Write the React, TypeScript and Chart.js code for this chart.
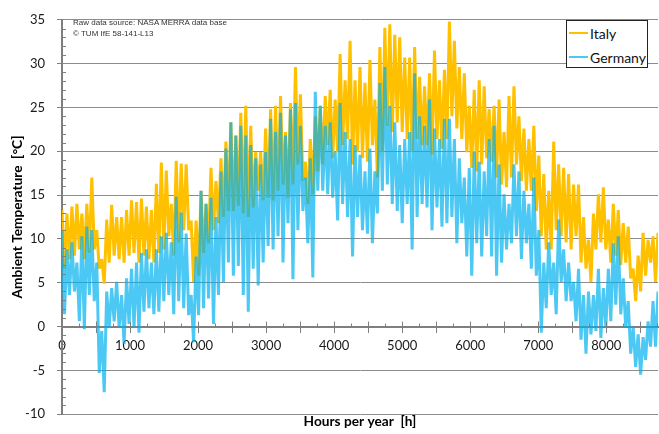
import React, { useEffect, useRef } from 'react';
import { Chart, registerables } from 'chart.js';

Chart.register(...registerables);

// Hours between successive daily-peak readings; lows sit half a step later.
const HOURS_PER_STEP = 73;
const HOURS_PER_YEAR = 8760;

const ITALY_HIGH = [
  13.3, 12.9, 13.7, 14.0, 12.9, 14.0, 17.0, 11.0, 7.7, 12.2,
  13.9, 12.5, 12.5, 13.3, 14.4, 14.2, 14.6, 13.7, 13.3, 16.3,
  18.7, 17.8, 14.0, 18.9, 18.6, 18.5, 12.1, 12.1, 15.5, 14.0,
  18.1, 16.6, 19.2, 21.1, 23.3, 21.8, 24.4, 25.2, 22.9, 19.9,
  19.9, 22.6, 24.8, 25.2, 26.3, 22.2, 25.5, 29.6, 26.5, 18.8,
  21.4, 24.0, 25.2, 26.3, 27.0, 25.9, 31.1, 28.1, 32.6, 28.1,
  29.6, 27.8, 30.4, 25.9, 31.9, 34.1, 34.5, 33.3, 33.0, 30.7,
  30.7, 31.9, 28.5, 27.4, 28.9, 31.5, 28.1, 29.3, 34.8, 32.6,
  29.6, 28.9, 25.2, 27.0, 28.1, 27.4, 24.8, 25.2, 25.9, 22.2,
  26.3, 27.4, 24.0, 22.6, 21.4, 22.9, 19.5, 17.4, 15.5, 21.1,
  18.5, 18.1, 17.4, 16.2, 16.2, 12.5, 9.9, 12.9, 15.1, 15.9,
  12.2, 14.0, 13.3, 11.8, 11.4, 6.6, 8.1, 10.7, 9.9, 10.3,
  10.7,
];

const ITALY_LOW = [
  6.6, 7.7, 8.1, 8.8, 7.7, 8.4, 8.8, 6.6, 4.9, 7.3,
  8.1, 7.7, 7.3, 8.1, 8.4, 7.3, 8.1, 7.7, 7.3, 8.4,
  8.8, 10.3, 8.1, 9.6, 11.0, 11.0, 5.1, 5.8, 8.4, 9.5,
  11.0, 11.8, 12.5, 13.2, 13.2, 13.8, 12.9, 12.5, 13.6, 15.5,
  14.4, 14.7, 14.4, 15.5, 16.2, 14.7, 16.2, 18.5, 16.6, 14.0,
  15.1, 17.7, 18.5, 20.7, 19.2, 19.9, 20.7, 21.4, 18.5, 19.9,
  19.2, 18.8, 20.7, 17.0, 19.9, 22.9, 22.2, 23.3, 22.2, 21.4,
  19.9, 21.4, 20.7, 20.7, 19.6, 21.4, 20.3, 21.4, 24.0, 22.6,
  21.4, 19.9, 18.1, 17.7, 18.5, 19.2, 18.8, 17.0, 16.2, 15.9,
  17.0, 18.5, 16.6, 15.5, 15.5, 13.2, 10.3, 8.8, 8.8, 11.0,
  10.3, 9.6, 8.8, 10.3, 7.3, 6.6, 5.1, 8.8, 9.6, 8.8,
  7.3, 8.1, 7.0, 7.3, 5.5, 2.9, 4.0, 5.8, 7.3, 5.1,
];

const GERMANY_HIGH = [
  11.0, 8.8, 9.6, 7.3, 10.3, 11.4, 11.0, 7.3, -0.5, 4.0,
  4.4, 5.1, 3.6, 5.5, 6.6, 7.3, 8.4, 8.8, 7.3, 8.8,
  10.3, 10.7, 9.6, 14.8, 13.0, 10.6, 3.6, 8.0, 15.5, 14.0,
  14.7, 12.5, 17.7, 20.3, 23.3, 21.8, 22.9, 21.8, 20.7, 19.2,
  18.5, 19.9, 23.7, 22.2, 24.4, 21.8, 24.8, 25.5, 22.9, 17.0,
  19.2, 26.8, 25.2, 22.9, 23.3, 19.9, 25.5, 22.2, 21.4, 20.7,
  19.6, 17.7, 20.3, 17.7, 27.8, 29.6, 25.2, 23.3, 20.7, 21.4,
  22.2, 28.9, 24.0, 22.9, 25.9, 22.6, 21.4, 23.7, 23.7, 21.4,
  19.2, 17.0, 18.1, 19.9, 18.8, 17.7, 21.4, 22.9, 18.5, 15.1,
  14.0, 18.5, 17.7, 15.5, 14.0, 17.0, 11.0, 7.3, 9.6, 7.3,
  12.2, 8.8, 7.3, 5.1, 6.6, 3.6, 4.0, 3.6, 6.6, 4.4,
  6.6, 9.5, 10.3, 5.5, 2.9, -0.1, -0.9, -1.2, 0.6, 2.9,
  4.0,
];

const GERMANY_LOW = [
  1.4, 3.6, 4.0, 0.6, -0.3, 3.6, 2.9, -5.3, -7.5, -0.1,
  0.6, -0.1, -2.0, 0.3, -0.1, -0.7, 1.7, 2.1, 1.4, 1.7,
  2.9, 3.6, 1.4, 2.9, 2.1, 1.3, -1.8, 1.3, 2.1, 3.2,
  0.3, 3.6, 5.1, 7.3, 5.8, 6.9, 3.6, 1.7, 6.6, 4.7,
  7.3, 9.2, 8.8, 10.3, 7.3, 11.8, 5.4, 11.0, 13.2, 9.5,
  5.6, 15.5, 15.5, 15.1, 14.7, 12.1, 14.0, 12.5, 8.0, 12.5,
  11.0, 10.6, 9.5, 12.9, 15.5, 16.2, 14.0, 13.2, 11.8, 14.0,
  8.8, 12.5, 14.0, 13.6, 11.0, 13.6, 11.4, 11.8, 12.5, 9.5,
  11.8, 8.0, 5.8, 9.5, 8.0, 10.3, 8.0, 5.8, 7.3, 8.8,
  9.5, 10.3, 7.7, 9.5, 6.6, 5.8, -0.7, 2.1, 3.6, 1.4,
  5.1, 2.9, 2.9, 0.6, -1.5, -3.1, -0.9, -0.5, -1.3, -0.1,
  0.6, 2.5, 1.4, -0.1, -3.1, -4.6, -5.5, -3.8, -2.3, -2.3,
];

const SERIES_NAMES = ['Italy', 'Germany'];
const ITALY_COLOR = '#FFC000';
const GERMANY_COLOR = 'rgba(0,176,240,0.7)';
const GERMANY_LEGEND_COLOR = 'rgb(77,200,245)';
const Y_MIN = -10;
const Y_MAX = 35;
const Y_STEP = 5;
const X_TICK_VALUES = [0, 500, 1000, 1500, 2000, 2500, 3000, 3500, 4000, 4500, 5000, 5500, 6000, 6500, 7000, 7500, 8000, 8500];
const X_LABEL_STEP = 1000;
const X_TICK_STEP = 500;
const X_MINOR_STEP = 250;
const Y_TITLE = 'Ambient Temperature  [°C]';
const X_TITLE = 'Hours per year  [h]';
const NOTE_LINES = ['Raw data source: NASA MERRA data base', '© TUM IfE 58-141-L13'];

function buildSeries(highs: number[], lows: number[]) {
  const pts: { x: number; y: number }[] = [];
  for (let i = 0; i < highs.length; i++) {
    pts.push({ x: i * HOURS_PER_STEP, y: highs[i] });
    if (i < lows.length) pts.push({ x: i * HOURS_PER_STEP + HOURS_PER_STEP / 2, y: lows[i] });
  }
  return pts;
}

const AXIS_GRAY = '#7f7f7f';
const TITLE_FONT = { size: 13.7, weight: 'bold' as const };

const minorTicksPlugin = {
  id: 'minorTicks',
  afterDraw(chart: any) {
    const { ctx, scales, chartArea } = chart;
    const xs = scales.x;
    const ys = scales.y;
    const zeroY = ys.getPixelForValue(0);
    ctx.save();
    ctx.strokeStyle = AXIS_GRAY;
    ctx.lineWidth = 1;
    ctx.beginPath();
    for (let v = Y_MIN; v <= Y_MAX; v++) {
      if (v % Y_STEP === 0) continue;
      const py = Math.round(ys.getPixelForValue(v)) + 0.5;
      ctx.moveTo(chartArea.left, py);
      ctx.lineTo(chartArea.left + 4, py);
    }
    for (let h = 0; h < HOURS_PER_YEAR; h += X_MINOR_STEP) {
      const px = Math.round(xs.getPixelForValue(h)) + 0.5;
      const len = h % X_TICK_STEP === 0 ? 5 : 3;
      ctx.moveTo(px, zeroY);
      ctx.lineTo(px, zeroY - len);
    }
    ctx.stroke();
    ctx.restore();
  },
};

export default function App() {
  const canvasRef = useRef<HTMLCanvasElement | null>(null);

  useEffect(() => {
    if (!canvasRef.current) return;
    Chart.defaults.font.family = 'Lato, "Open Sans", sans-serif';
    const chart = new Chart(canvasRef.current, {
      type: 'line',
      data: {
        datasets: [
          {
            label: SERIES_NAMES[1],
            data: buildSeries(GERMANY_HIGH, GERMANY_LOW),
            borderColor: GERMANY_COLOR,
            backgroundColor: GERMANY_COLOR,
            borderWidth: 3,
            borderJoinStyle: 'bevel',
            pointRadius: 0,
            tension: 0,
            fill: false,
            order: 0,
            xAxisID: 'x',
            yAxisID: 'y',
          },
          {
            label: SERIES_NAMES[0],
            data: buildSeries(ITALY_HIGH, ITALY_LOW),
            borderColor: ITALY_COLOR,
            backgroundColor: ITALY_COLOR,
            borderWidth: 3,
            borderJoinStyle: 'bevel',
            pointRadius: 0,
            tension: 0,
            fill: false,
            order: 1,
            xAxisID: 'x',
            yAxisID: 'y',
          },
        ],
      },
      options: {
        responsive: false,
        animation: false,
        devicePixelRatio: 1,
        layout: { padding: { left: 0, right: 1, top: 12, bottom: 0 } },
        plugins: { legend: { display: false }, tooltip: { enabled: false } },
        scales: {
          x: {
            type: 'linear',
            min: 0,
            max: HOURS_PER_YEAR,
            position: { y: 0 } as any,
            z: 1,
            border: { display: true, color: AXIS_GRAY, width: 2 },
            grid: { display: true, drawOnChartArea: false, drawTicks: true, tickLength: 5, tickColor: AXIS_GRAY, tickWidth: 1 },
            afterBuildTicks: (s: any) => { s.ticks = X_TICK_VALUES.map((v) => ({ value: v })); },
            ticks: {
              autoSkip: false,
              maxRotation: 0,
              minRotation: 0,
              padding: 6,
              color: '#1a1a1a',
              font: { size: 13 },
              callback: (v: any) => (Number(v) % X_LABEL_STEP === 0 ? String(v) : ''),
            },
          },
          x2: {
            type: 'linear',
            min: 0,
            max: HOURS_PER_YEAR,
            position: 'bottom',
            ticks: { display: false },
            grid: { display: false },
            border: { display: false },
            title: {
              display: true,
              text: X_TITLE,
              color: '#000',
              font: TITLE_FONT,
              padding: { top: 0, bottom: 3 },
            },
            afterFit: (s: any) => { s.height = 19; },
          },
          y: {
            type: 'linear',
            min: Y_MIN,
            max: Y_MAX,
            position: 'left',
            border: { display: true, color: AXIS_GRAY, width: 2 },
            grid: { color: '#8c8c8c', lineWidth: 1, tickLength: 5, tickColor: AXIS_GRAY },
            ticks: { stepSize: Y_STEP, padding: 12, color: '#1a1a1a', font: { size: 13 } },
            title: {
              display: true,
              text: Y_TITLE,
              color: '#000',
              font: TITLE_FONT,
              padding: { top: 9, bottom: 0 },
            },
            afterFit: (s: any) => { s.width = 62; },
          },
        },
      },
      plugins: [minorTicksPlugin],
    } as any);
    return () => chart.destroy();
  }, []);

  return (
    <div style={{ position: 'fixed', left: 0, top: 0, width: 659, height: 434, background: '#fff' }}>
      <canvas ref={canvasRef} width={659} height={434} style={{ display: 'block' }} />
      <div
        style={{
          position: 'absolute', left: 73, top: 17, fontFamily: '"Liberation Sans", Arial, sans-serif',
          fontSize: 8, lineHeight: '11px', color: '#333',
        }}
      >
        {NOTE_LINES.map((t) => (<div key={t}>{t}</div>))}
      </div>
      <div
        style={{
          position: 'absolute', left: 566, top: 20, width: 80, height: 46, border: '1px solid #222',
          background: '#fff', fontFamily: 'Lato, "Open Sans", sans-serif', fontSize: 14, color: '#111',
        }}
      >
        {[{ n: SERIES_NAMES[0], c: ITALY_COLOR }, { n: SERIES_NAMES[1], c: GERMANY_LEGEND_COLOR }].map((it, i) => (
          <div key={it.n} style={{ position: 'absolute', left: 2, top: 3 + i * 24, height: 18, display: 'flex', alignItems: 'center' }}>
            <div style={{ width: 19, height: 1.5, background: it.c, marginRight: 2 }} />
            <span>{it.n}</span>
          </div>
        ))}
      </div>
    </div>
  );
}
